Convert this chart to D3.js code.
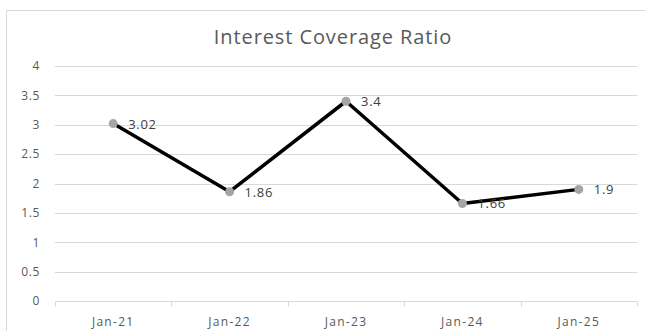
<!DOCTYPE html>
<html>
<head>
<meta charset="utf-8">
<script src="https://cdn.jsdelivr.net/npm/d3@7"></script>
<style>
  html, body { margin: 0; padding: 0; background: #fff; }
  svg { display: block; }
  text { font-family: "Open Sans", "Liberation Sans", sans-serif; }
</style>
</head>
<body>
<script>
const categories = ["Jan-21", "Jan-22", "Jan-23", "Jan-24", "Jan-25"];
const ratios = [3.02, 1.86, 3.4, 1.66, 1.9];
const yTicks = [0, 0.5, 1, 1.5, 2, 2.5, 3, 3.5, 4];
const titleText = "Interest Coverage Ratio";

const W = 645, H = 331;
const plot = { left: 55, right: 637, top: 66, bottom: 301 };

const svg = d3.select("body").append("svg").attr("width", W).attr("height", H);

// chart area frame
svg.append("rect")
  .attr("x", 6.5).attr("y", 10.5)
  .attr("width", W + 10).attr("height", H + 10)
  .attr("fill", "#fff").attr("stroke", "#d9d9d9").attr("stroke-width", 1);

svg.append("text")
  .attr("x", 333).attr("y", 44)
  .attr("text-anchor", "middle")
  .attr("font-size", 20).attr("letter-spacing", 0.9).attr("fill", "#595959")
  .text(titleText);

const x = d3.scaleBand().domain(categories).range([plot.left, plot.right]);
const y = d3.scaleLinear().domain([0, 4]).range([plot.bottom, plot.top]);

// horizontal gridlines
svg.append("g").selectAll("line").data(yTicks.filter(t => t > 0)).join("line")
  .attr("x1", plot.left).attr("x2", plot.right)
  .attr("y1", d => Math.round(y(d)) + 0.5).attr("y2", d => Math.round(y(d)) + 0.5)
  .attr("stroke", "#d9d9d9").attr("stroke-width", 1);

// y axis labels
const yAxis = d3.axisLeft(y).tickValues(yTicks).tickSize(0).tickPadding(0)
  .tickFormat(d => d3.format("")(d));
const gy = svg.append("g").attr("transform", `translate(${plot.left - 15},0)`).call(yAxis);
gy.select(".domain").remove();
gy.selectAll("text").attr("font-size", 12).attr("letter-spacing", 0.6).attr("fill", "#595959")
  .attr("font-family", "\"Open Sans\", \"Liberation Sans\", sans-serif");

// x axis with tick marks at band edges
const gx = svg.append("g").attr("transform", `translate(0,${Math.round(plot.bottom) + 0.5})`);
gx.append("line").attr("x1", plot.left).attr("x2", plot.right)
  .attr("stroke", "#d9d9d9").attr("stroke-width", 1);
const edges = categories.map(c => x(c)).concat([plot.right]);
gx.selectAll("line.tick").data(edges).join("line").attr("class", "tick")
  .attr("x1", d => Math.round(d) + 0.5).attr("x2", d => Math.round(d) + 0.5)
  .attr("y1", 0).attr("y2", 5)
  .attr("stroke", "#d9d9d9");
gx.selectAll("text").data(categories).join("text")
  .attr("x", d => x(d) + x.bandwidth() / 2)
  .attr("y", 24)
  .attr("text-anchor", "middle")
  .attr("font-size", 12).attr("letter-spacing", 1.3).attr("fill", "#595959")
  .text(d => d);

const pts = categories.map((c, i) => ({ c, v: ratios[i] }));
const cx = d => x(d.c) + x.bandwidth() / 2;

svg.append("path").datum(pts)
  .attr("fill", "none").attr("stroke", "#000").attr("stroke-width", 3.5)
  .attr("stroke-linejoin", "round")
  .attr("d", d3.line().x(cx).y(d => y(d.v)));

svg.append("g").selectAll("circle").data(pts).join("circle")
  .attr("cx", cx).attr("cy", d => y(d.v)).attr("r", 4.5)
  .attr("fill", "#a5a5a5");

svg.append("g").selectAll("text").data(pts).join("text")
  .attr("x", d => cx(d) + 15).attr("y", d => y(d.v) + 5)
  .attr("font-size", 13).attr("letter-spacing", 0.7).attr("fill", "#404040")
  .text(d => d.v);
</script>
</body>
</html>
